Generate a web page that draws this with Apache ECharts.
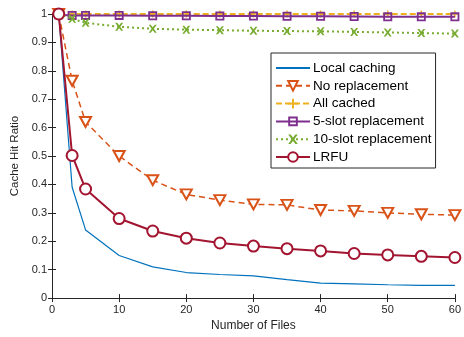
<!DOCTYPE html>
<html>
<head>
<meta charset="utf-8">
<script src="https://cdn.jsdelivr.net/npm/echarts@6/dist/echarts.min.js"></script>
<style>
  html, body { margin: 0; padding: 0; background: #fff; }
  #chart { width: 464px; height: 337px; }
</style>
</head>
<body>
<div id="chart"></div>
<script>
// number of files (x)
var files = [1, 3, 5, 10, 15, 20, 25, 30, 35, 40, 45, 50, 55, 60];

var localCaching  = [1.0, 0.39, 0.24, 0.15, 0.11, 0.09, 0.083, 0.078, 0.065, 0.053, 0.05, 0.047, 0.045, 0.045];
var noReplacement = [1.0, 0.765, 0.62, 0.50, 0.415, 0.365, 0.345, 0.33, 0.328, 0.31, 0.307, 0.30, 0.295, 0.292];
var allCached     = [1, 1, 1, 1, 1, 1, 1, 1, 1, 1, 1, 1, 1, 1];
var slot5         = [0.997, 0.995, 0.995, 0.995, 0.994, 0.994, 0.993, 0.993, 0.992, 0.992, 0.991, 0.99, 0.99, 0.99];
var slot10        = [1.0, 0.983, 0.969, 0.955, 0.948, 0.945, 0.943, 0.941, 0.94, 0.939, 0.937, 0.935, 0.933, 0.931];
var lrfu          = [1.0, 0.502, 0.384, 0.28, 0.236, 0.211, 0.194, 0.183, 0.174, 0.166, 0.157, 0.152, 0.147, 0.143];

var xTicks = [0, 10, 20, 30, 40, 50, 60];
var yTicks = [0, 0.1, 0.2, 0.3, 0.4, 0.5, 0.6, 0.7, 0.8, 0.9, 1];

function pairs(ys) {
  return files.map(function (x, i) { return [x, ys[i]]; });
}

var axisColor = "#262626";
var font = "Liberation Sans, Arial, sans-serif";

// marker shapes (MATLAB-like)
var xMark = "path://M0,0L2.5,0L5,3.2L7.5,0L10,0L6.4,5L10,10L7.5,10L5,6.8L2.5,10L0,10L3.6,5Z";
var starMark = "path://M4,0H6V4H10V6H6V10H4V6H0V4H4Z";
var squareRing = "path://M0,0H10V10H0Z M2,2V8H8V2Z";

var myChart = echarts.init(document.getElementById("chart"));
var option = {
  animation: false,
  backgroundColor: "#fff",
  grid: { left: 52, right: 5, top: 14, bottom: 34 },
  legend: {
    orient: "vertical",
    left: 271,
    top: 53,
    padding: [8, 4, 4, 4],
    itemWidth: 34,
    itemHeight: 12,
    itemGap: 3.8,
    borderColor: "#262626",
    borderWidth: 1,
    backgroundColor: "#fff",
    textStyle: { fontFamily: font, fontSize: 13.5, color: "#000", padding: [0, 0, 0, -2] },
    data: [
      { name: "Local caching", itemStyle: { opacity: 0 } },
      "No replacement", "All cached", "5-slot replacement", "10-slot replacement", "LRFU"
    ]
  },
  xAxis: [
    {
      type: "value",
      min: 0,
      max: 60,
      interval: 10,
      name: "Number of Files",
      nameLocation: "middle",
      nameGap: 17,
      nameTextStyle: { fontFamily: font, fontSize: 12, color: axisColor },
      axisLine: { show: true, lineStyle: { color: axisColor, width: 1 } },
      axisTick: { show: true, inside: true, length: 4, lineStyle: { color: axisColor } },
      axisLabel: { margin: 6, fontFamily: font, fontSize: 11, color: axisColor },
      splitLine: { show: false }
    },
    {
      type: "value",
      position: "top",
      min: 0,
      max: 60,
      interval: 10,
      axisLine: { show: true, lineStyle: { color: axisColor, width: 1 } },
      axisTick: { show: true, inside: true, length: 4, lineStyle: { color: axisColor } },
      axisLabel: { show: false },
      splitLine: { show: false }
    }
  ],
  yAxis: [
    {
      type: "value",
      min: 0,
      max: 1,
      interval: 0.1,
      name: "Cache Hit Ratio",
      nameLocation: "middle",
      nameGap: 24,
      nameTextStyle: { fontFamily: font, fontSize: 11.5, color: axisColor },
      axisLine: { show: true, lineStyle: { color: axisColor, width: 1 } },
      axisTick: { show: true, inside: true, length: 4, lineStyle: { color: axisColor } },
      axisLabel: {
        margin: 5, fontFamily: font, fontSize: 11, color: axisColor,
        formatter: function (v) { return String(Math.round(v * 10) / 10); }
      },
      splitLine: { show: false }
    },
    {
      type: "value",
      position: "right",
      min: 0,
      max: 1,
      interval: 0.1,
      axisLine: { show: true, lineStyle: { color: axisColor, width: 1 } },
      axisTick: { show: true, inside: true, length: 4, lineStyle: { color: axisColor } },
      axisLabel: { show: false },
      splitLine: { show: false }
    }
  ],
  series: [
    {
      name: "Local caching",
      type: "line",
      data: pairs(localCaching),
      symbol: "none",
      color: "#0072BD",
      lineStyle: { width: 1.2, color: "#0072BD" },
      z: 2
    },
    {
      name: "No replacement",
      type: "line",
      data: pairs(noReplacement),
      symbol: "emptyTriangle",
      symbolRotate: 180,
      symbolSize: [11, 10],
      color: "#D95319",
      itemStyle: { color: "#D95319", borderWidth: 1.5 },
      lineStyle: { width: 1.5, type: [6, 4], color: "#D95319" },
      z: 3
    },
    {
      name: "All cached",
      type: "line",
      data: pairs(allCached),
      symbol: starMark,
      symbolSize: 7,
      color: "#EDB120",
      itemStyle: { color: "#EDB120" },
      lineStyle: { width: 2, type: [6, 3], color: "#EDB120" },
      z: 4
    },
    {
      name: "5-slot replacement",
      type: "line",
      data: pairs(slot5),
      symbol: squareRing,
      symbolSize: 9,
      color: "#7E2F8E",
      itemStyle: { color: "#7E2F8E" },
      lineStyle: { width: 2, color: "#7E2F8E" },
      z: 5
    },
    {
      name: "10-slot replacement",
      type: "line",
      data: pairs(slot10),
      symbol: xMark,
      symbolSize: 8,
      color: "#77AC30",
      itemStyle: { color: "#77AC30" },
      lineStyle: { width: 2, type: [2, 3], color: "#77AC30" },
      z: 6
    },
    {
      name: "LRFU",
      type: "line",
      data: pairs(lrfu),
      symbol: "emptyCircle",
      symbolSize: 11,
      color: "#A2142F",
      itemStyle: { color: "#A2142F", borderWidth: 2 },
      lineStyle: { width: 2, color: "#A2142F" },
      z: 7
    }
  ]
};
myChart.setOption(option);
</script>
</body>
</html>
